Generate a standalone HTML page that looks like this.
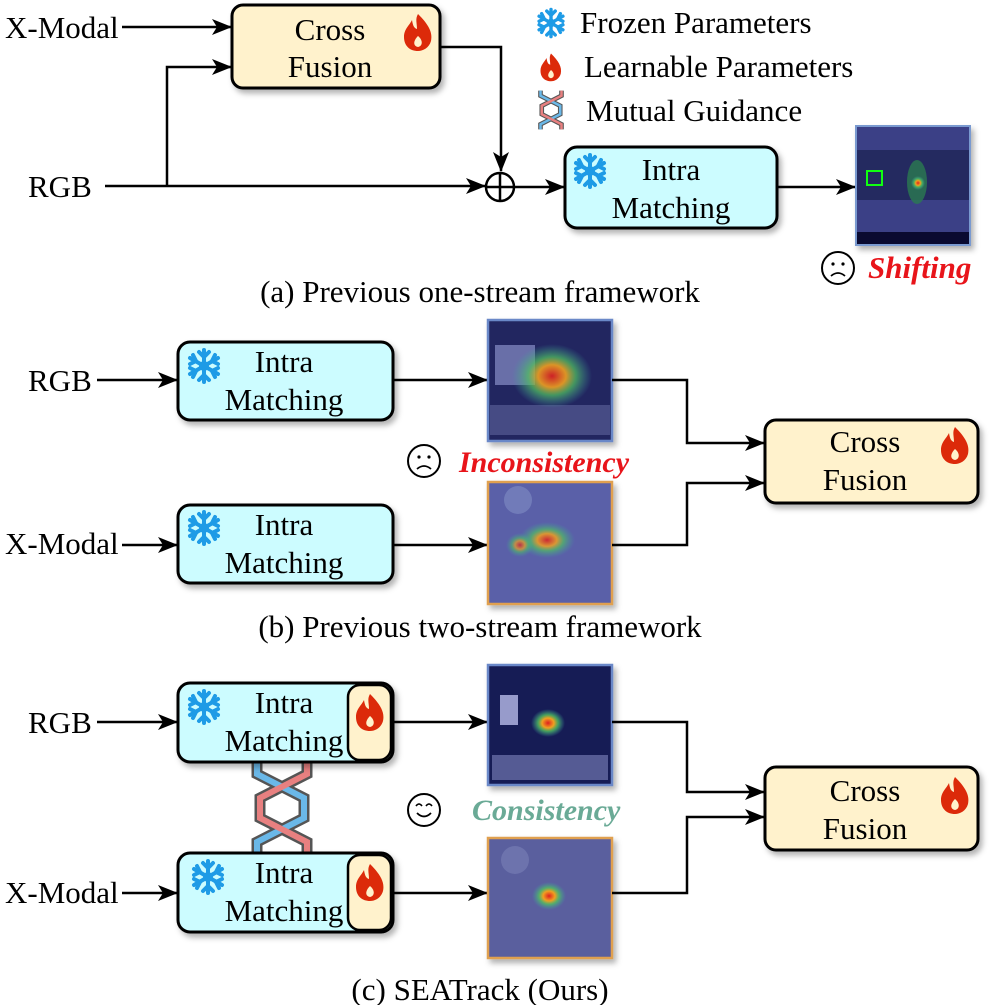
<!DOCTYPE html>
<html><head><meta charset="utf-8"><style>
html,body{margin:0;padding:0;background:#fff;}
svg{display:block;}
svg text{font-family:"Liberation Serif",serif;}
</style></head><body>
<svg width="995" height="1005" viewBox="0 0 995 1005" xmlns="http://www.w3.org/2000/svg" font-family="'Liberation Serif', serif">
<defs>
<marker id="ar" markerWidth="20" markerHeight="18" refX="19" refY="9" orient="auto" markerUnits="userSpaceOnUse">
<path d="M0,1 L20,9 L0,17 L5,9 Z" fill="#000"/></marker>
<filter id="sh" x="-10%" y="-10%" width="130%" height="140%"><feDropShadow dx="3" dy="4" stdDeviation="3" flood-color="#000" flood-opacity="0.3"/></filter>
<g id="flame"><path d="M0,-18 C10,-8 15,0 13,9 C11,16 5,19 0,19 C-8,19 -14,14 -14,5 C-14,-3 -9,-6 -6,-12 C-5,-6 -4,-4 -1,-3 C-1,-9 -3,-13 0,-18 Z" fill="#dc2a0a"/><path d="M0,4 C5,8 5,14 0,15 C-5,14 -5,9 0,4Z" fill="#fff2cc"/></g>
<g id="snow" stroke="#1e9be6" stroke-width="4" stroke-linecap="round" fill="none">
<path d="M0,-16 V16 M-14,-8 L14,8 M-14,8 L14,-8"/>
<path d="M-5,-14 L0,-9 L5,-14 M-5,14 L0,9 L5,14 M-14,-2 L-8,-5 L-11,-11 M14,2 L8,5 L11,11 M-14,2 L-8,5 L-11,11 M14,-2 L8,-5 L11,-11"/>
<circle cx="0" cy="0" r="3" fill="#1e9be6"/></g>
<radialGradient id="heat"><stop offset="0" stop-color="#e02020"/><stop offset="0.35" stop-color="#f0a020"/><stop offset="0.6" stop-color="#50c060" stop-opacity="0.8"/><stop offset="1" stop-color="#40a0a0" stop-opacity="0"/></radialGradient>
</defs>

<!-- (a) -->
<text x="5" y="38" font-size="31">X-Modal</text>
<line x1="122" y1="27" x2="231" y2="27" stroke="#000" stroke-width="2.5" marker-end="url(#ar)"/>
<rect x="232" y="5" width="208" height="83" rx="11" fill="#fff2cc" stroke="#000" stroke-width="3" filter="url(#sh)"/>
<text x="330" y="40" font-size="31" text-anchor="middle">Cross</text>
<text x="330" y="77" font-size="31" text-anchor="middle">Fusion</text>
<use href="#flame" x="418" y="32"/>
<polyline points="440,47 501,47 501,171" fill="none" stroke="#000" stroke-width="2.5" marker-end="url(#ar)"/>
<text x="28" y="197" font-size="31">RGB</text>
<line x1="105" y1="186" x2="485" y2="186" stroke="#000" stroke-width="2.5" marker-end="url(#ar)"/>
<polyline points="167,186 167,67 231,67" fill="none" stroke="#000" stroke-width="2.5" marker-end="url(#ar)"/>
<circle cx="500" cy="187" r="14" fill="#fff" stroke="#000" stroke-width="2.5"/>
<path d="M486,187 H514 M500,173 V201" stroke="#000" stroke-width="2.5"/>
<line x1="514" y1="187" x2="564" y2="187" stroke="#000" stroke-width="2.5" marker-end="url(#ar)"/>
<rect x="565" y="147" width="212" height="81" rx="12" fill="#ccfcff" stroke="#000" stroke-width="3" filter="url(#sh)"/>
<use href="#snow" x="590" y="171"/>
<text x="671" y="180" font-size="31" text-anchor="middle">Intra</text>
<text x="671" y="218" font-size="31" text-anchor="middle">Matching</text>
<line x1="777" y1="187" x2="855" y2="187" stroke="#000" stroke-width="2.5" marker-end="url(#ar)"/>
<rect x="856" y="126" width="114" height="119" fill="#3a3f86" stroke="#7a9ad0" stroke-width="2" filter="url(#sh)"/>
<rect x="857" y="150" width="112" height="50" fill="#242a60"/>
<rect x="857" y="232" width="112" height="12" fill="#0a0a30"/>
<ellipse cx="917" cy="182" rx="10" ry="22" fill="#2a7a50" opacity="0.8"/>
<circle cx="918" cy="183" r="7" fill="url(#heat)"/>
<rect x="867" y="171" width="15" height="14" fill="none" stroke="#10ff10" stroke-width="2"/>
<circle cx="838" cy="268" r="16" fill="none" stroke="#000" stroke-width="2"/>
<circle cx="833" cy="264" r="1.6"/><circle cx="843" cy="264" r="1.6"/>
<path d="M831,276 Q838,270 845,276" fill="none" stroke="#000" stroke-width="1.8"/>
<text x="868" y="278" font-size="31" font-style="italic" font-weight="bold" fill="#e8141a">Shifting</text>
<text x="480" y="302" font-size="31" text-anchor="middle">(a) Previous one-stream framework</text>
<!-- legend -->
<g transform="translate(551 23) scale(0.85)"><use href="#snow"/></g>
<text x="580" y="33" font-size="31">Frozen Parameters</text>
<g transform="translate(551 67) scale(0.75)"><use href="#flame"/></g>
<text x="584" y="77" font-size="31">Learnable Parameters</text>
<g transform="translate(551 110) scale(0.42)">
<path d="M-25,-46 V-34 L22,-10 V10 L-25,34 V46" fill="none" stroke="#555" stroke-width="11"/>
<path d="M25,-46 V-34 L-22,-10 V10 L25,34 V46" fill="none" stroke="#555" stroke-width="11"/>
<path d="M-25,-46 V-34 L22,-10 V10 L-25,34 V46" fill="none" stroke="#6ab8e8" stroke-width="6"/>
<path d="M25,-46 V-34 L-22,-10 V10 L25,34 V46" fill="none" stroke="#e88080" stroke-width="6"/></g>
<text x="586" y="121" font-size="31">Mutual Guidance</text>

<!-- (b) -->
<text x="28" y="391" font-size="31">RGB</text>
<line x1="97" y1="380" x2="177" y2="380" stroke="#000" stroke-width="2.5" marker-end="url(#ar)"/>
<rect x="178" y="342" width="215" height="78" rx="12" fill="#ccfcff" stroke="#000" stroke-width="3" filter="url(#sh)"/>
<use href="#snow" x="204" y="366"/>
<text x="284" y="372" font-size="31" text-anchor="middle">Intra</text>
<text x="284" y="410" font-size="31" text-anchor="middle">Matching</text>
<line x1="393" y1="380" x2="487" y2="380" stroke="#000" stroke-width="2.5" marker-end="url(#ar)"/>
<rect x="488" y="320" width="124" height="121" fill="#232860" stroke="#6a88c8" stroke-width="2.5" filter="url(#sh)"/>
<rect x="495" y="345" width="40" height="40" fill="#9aa0d8" opacity="0.6"/>
<rect x="490" y="405" width="120" height="30" fill="#6a70a8" opacity="0.5"/>
<ellipse cx="552" cy="376" rx="40" ry="32" fill="url(#heat)" opacity="0.9"/>
<polyline points="612,380 687,380 687,443 764,443" fill="none" stroke="#000" stroke-width="2.5" marker-end="url(#ar)"/>
<circle cx="424" cy="461" r="16" fill="none" stroke="#000" stroke-width="2"/>
<circle cx="419" cy="457" r="1.6"/><circle cx="429" cy="457" r="1.6"/>
<path d="M417,469 Q424,463 431,469" fill="none" stroke="#000" stroke-width="1.8"/>
<text x="459" y="472" font-size="30" font-style="italic" font-weight="bold" fill="#e8141a">Inconsistency</text>
<text x="5" y="554" font-size="31">X-Modal</text>
<line x1="122" y1="545" x2="177" y2="545" stroke="#000" stroke-width="2.5" marker-end="url(#ar)"/>
<rect x="178" y="505" width="215" height="78" rx="12" fill="#ccfcff" stroke="#000" stroke-width="3" filter="url(#sh)"/>
<use href="#snow" x="204" y="528"/>
<text x="284" y="535" font-size="31" text-anchor="middle">Intra</text>
<text x="284" y="573" font-size="31" text-anchor="middle">Matching</text>
<line x1="393" y1="545" x2="487" y2="545" stroke="#000" stroke-width="2.5" marker-end="url(#ar)"/>
<rect x="488" y="482" width="124" height="122" fill="#5a60a8" stroke="#e0a050" stroke-width="2.5" filter="url(#sh)"/>
<ellipse cx="518" cy="500" rx="14" ry="14" fill="#7a88c0" opacity="0.7"/>
<ellipse cx="547" cy="540" rx="28" ry="18" fill="url(#heat)" opacity="0.85"/>
<ellipse cx="520" cy="545" rx="14" ry="12" fill="url(#heat)" opacity="0.7"/>
<polyline points="612,545 687,545 687,483 764,483" fill="none" stroke="#000" stroke-width="2.5" marker-end="url(#ar)"/>
<rect x="765" y="420" width="213" height="83" rx="11" fill="#fff2cc" stroke="#000" stroke-width="3" filter="url(#sh)"/>
<text x="865" y="452" font-size="31" text-anchor="middle">Cross</text>
<text x="865" y="490" font-size="31" text-anchor="middle">Fusion</text>
<use href="#flame" x="955" y="445"/>
<text x="480" y="637" font-size="31" text-anchor="middle">(b) Previous two-stream framework</text>

<!-- (c) -->
<g transform="translate(282 808)">
<path d="M-25,-46 V-34 L22,-10 V10 L-25,34 V46" fill="none" stroke="#555" stroke-width="11"/>
<path d="M25,-46 V-34 L-22,-10 V10 L25,34 V46" fill="none" stroke="#555" stroke-width="11"/>
<path d="M-25,-46 V-34 L22,-10 V10 L-25,34 V46" fill="none" stroke="#6ab8e8" stroke-width="6"/>
<path d="M25,-46 V-34 L-22,-10 V10 L25,34 V46" fill="none" stroke="#e88080" stroke-width="6"/></g>
<text x="28" y="733" font-size="31">RGB</text>
<line x1="97" y1="722" x2="177" y2="722" stroke="#000" stroke-width="2.5" marker-end="url(#ar)"/>
<rect x="178" y="683" width="215" height="79" rx="12" fill="#ccfcff" stroke="#000" stroke-width="3" filter="url(#sh)"/>
<rect x="348" y="685" width="43" height="75" rx="12" fill="#fff2cc" stroke="#000" stroke-width="2.5"/>
<use href="#flame" x="370" y="712"/>
<use href="#snow" x="204" y="707"/>
<text x="284" y="713" font-size="31" text-anchor="middle">Intra</text>
<text x="284" y="751" font-size="31" text-anchor="middle">Matching</text>
<line x1="393" y1="722" x2="487" y2="722" stroke="#000" stroke-width="2.5" marker-end="url(#ar)"/>
<rect x="488" y="665" width="124" height="120" fill="#151a55" stroke="#6a88c8" stroke-width="2.5" filter="url(#sh)"/>
<rect x="500" y="695" width="18" height="30" fill="#b8bce8" opacity="0.8"/>
<rect x="492" y="755" width="116" height="25" fill="#8a90c8" opacity="0.55"/>
<ellipse cx="548" cy="723" rx="17" ry="14" fill="url(#heat)"/>
<polyline points="612,722 687,722 687,792 764,792" fill="none" stroke="#000" stroke-width="2.5" marker-end="url(#ar)"/>
<circle cx="424" cy="810" r="16" fill="none" stroke="#000" stroke-width="2"/>
<path d="M416,806 Q419,802 422,806 M426,806 Q429,802 432,806" fill="none" stroke="#000" stroke-width="1.6"/>
<path d="M417,813 Q424,820 431,813" fill="none" stroke="#000" stroke-width="1.8"/>
<text x="472" y="820" font-size="30" font-style="italic" font-weight="bold" fill="#6aaa96">Consistency</text>
<text x="5" y="903" font-size="31">X-Modal</text>
<line x1="122" y1="893" x2="177" y2="893" stroke="#000" stroke-width="2.5" marker-end="url(#ar)"/>
<rect x="178" y="853" width="215" height="79" rx="12" fill="#ccfcff" stroke="#000" stroke-width="3" filter="url(#sh)"/>
<rect x="348" y="855" width="43" height="75" rx="12" fill="#fff2cc" stroke="#000" stroke-width="2.5"/>
<use href="#flame" x="370" y="882"/>
<use href="#snow" x="208" y="877"/>
<text x="284" y="883" font-size="31" text-anchor="middle">Intra</text>
<text x="284" y="921" font-size="31" text-anchor="middle">Matching</text>
<line x1="393" y1="893" x2="487" y2="893" stroke="#000" stroke-width="2.5" marker-end="url(#ar)"/>
<rect x="488" y="838" width="124" height="120" fill="#5a5e9e" stroke="#e0a050" stroke-width="2.5" filter="url(#sh)"/>
<ellipse cx="515" cy="860" rx="14" ry="14" fill="#7a80b8" opacity="0.6"/>
<ellipse cx="549" cy="896" rx="17" ry="14" fill="url(#heat)"/>
<polyline points="612,893 687,893 687,817 764,817" fill="none" stroke="#000" stroke-width="2.5" marker-end="url(#ar)"/>
<rect x="765" y="767" width="213" height="83" rx="11" fill="#fff2cc" stroke="#000" stroke-width="3" filter="url(#sh)"/>
<text x="865" y="801" font-size="31" text-anchor="middle">Cross</text>
<text x="865" y="839" font-size="31" text-anchor="middle">Fusion</text>
<use href="#flame" x="955" y="795"/>
<text x="480" y="1000" font-size="31" text-anchor="middle">(c) SEATrack (Ours)</text>
</svg>
</body></html>
